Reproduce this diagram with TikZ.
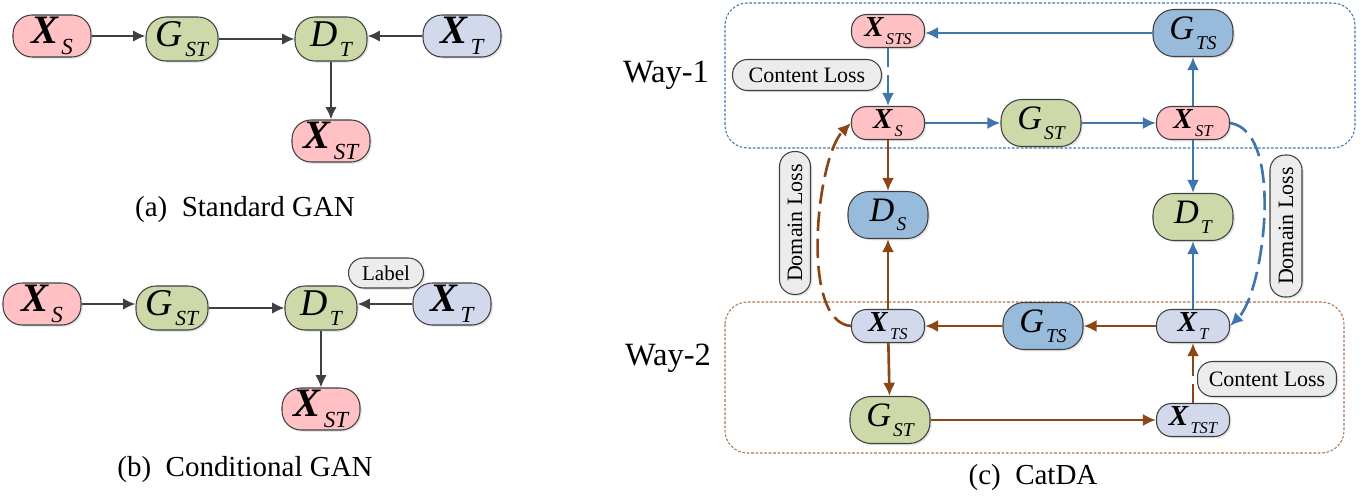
\documentclass[tikz,border=0pt]{standalone}
\usepackage{fontspec}
\setmainfont{Liberation Serif}
\usetikzlibrary{shapes, arrows, arrows.meta, positioning, calc, shadows}

\definecolor{pinkfill}{RGB}{255,193,195}
\definecolor{greenfill}{RGB}{206,217,170}
\definecolor{lilacfill}{RGB}{211,217,237}
\definecolor{steelfill}{RGB}{152,187,219}
\definecolor{greyfill}{RGB}{236,236,236}
\definecolor{edgegrey}{RGB}{64,64,64}
\definecolor{wayblue}{RGB}{62,117,172}
\definecolor{waybrown}{RGB}{140,70,22}

% variable with a lowered italic index
\makeatletter
\newcommand{\subtxt}[1]{\kern0.06em\raisebox{-0.28em}{\fontsize{\strip@pt\dimexpr0.57\dimexpr\f@size pt\relax\relax}{1}\selectfont\itshape #1}}
\makeatother
\newcommand{\bvar}[2]{\textbf{\textit{#1}}\subtxt{#2}}
\newcommand{\ivar}[2]{\textit{#1}\subtxt{#2}}

\tikzstyle{base} = [rectangle, draw=edgegrey, line width=0.6pt, align=center, inner sep=0pt, drop shadow={shadow xshift=1pt, shadow yshift=-1pt, opacity=0.2}]
\tikzstyle{xbig} = [base, minimum width=1.56cm, minimum height=0.84cm, rounded corners=0.38cm, font=\fontsize{23}{23}\selectfont]
\tikzstyle{gbig} = [base, minimum width=1.44cm, minimum height=0.88cm, rounded corners=0.4cm, font=\fontsize{21.5}{22}\selectfont]
\tikzstyle{xsmall} = [base, minimum width=1.46cm, minimum height=0.66cm, rounded corners=0.3cm, font=\fontsize{16.5}{17}\selectfont]
\tikzstyle{gsmall} = [base, minimum width=1.6cm, minimum height=0.94cm, rounded corners=0.42cm, font=\fontsize{19.5}{20}\selectfont]
\tikzstyle{loss} = [base, fill=greyfill, rounded corners=0.3cm, font=\fontsize{12.5}{13}\selectfont]
\tikzstyle{line} = [draw, edgegrey, line width=1.25pt, -{Latex[length=7pt, width=6.5pt]}]
\tikzstyle{bline} = [draw, wayblue, line width=1.5pt, -{Latex[length=7.5pt, width=7pt]}]
\tikzstyle{rline} = [draw, waybrown, line width=1.5pt, -{Latex[length=7.5pt, width=7pt]}]
\tikzstyle{longdash} = [dash pattern=on 11pt off 4.5pt]
\tikzstyle{frame} = [rounded corners=0.45cm, line width=0.6pt, dash pattern=on 1.5pt off 1pt]
\tikzstyle{caption} = [font=\fontsize{16.5}{18}\selectfont]
\tikzstyle{waytext} = [font=\fontsize{18.5}{20}\selectfont]

\begin{document}
\begin{tikzpicture}[x=0.02cm, y=-0.02cm]
    \useasboundingbox (0,0) rectangle (1369,500);

    % (a) standard GAN
    \node [xbig, fill=pinkfill] (xsA) at (52,36) {\bvar{X}{S}};
    \node [gbig, fill=greenfill] (gstA) at (182,39) {\ivar{G}{ST}};
    \node [gbig, fill=greenfill] (dtA) at (331,39) {\ivar{D}{T}};
    \node [xbig, fill=lilacfill] (xtA) at (462,36) {\bvar{X}{T}};
    \node [xbig, fill=pinkfill] (xstA) at (331,141) {\bvar{X}{ST}};
    \node [caption] (capA) at (245,210) {(a)\hspace{0.5em}Standard GAN};

    \path [line] (xsA.east) -- (xsA.east -| gstA.west);
    \path [line] (gstA.east) -- (gstA.east -| dtA.west);
    \path [line] (xtA.west) -- (xtA.west -| dtA.east);
    \path [line] (dtA) -- (xstA);

    % (b) conditional GAN
    \node [xbig, fill=pinkfill] (xsB) at (42,304) {\bvar{X}{S}};
    \node [gbig, fill=greenfill] (gstB) at (172,308) {\ivar{G}{ST}};
    \node [gbig, fill=greenfill] (dtB) at (321,308) {\ivar{D}{T}};
    \node [xbig, fill=lilacfill] (xtB) at (452,304) {\bvar{X}{T}};
    \node [xbig, fill=pinkfill] (xstB) at (321,409) {\bvar{X}{ST}};
    \node [loss, minimum width=1.5cm, minimum height=0.6cm, font=\fontsize{12}{13}\selectfont] (lblB) at (386,273) {Label};
    \node [caption] (capB) at (245,470) {(b)\hspace{0.5em}Conditional GAN};

    \path [line] (xsB.east) -- (xsB.east -| gstB.west);
    \path [line] (gstB.east) -- (gstB.east -| dtB.west);
    \path [line] (xtB.west) -- (xtB.west -| dtB.east);
    \path [line] (dtB) -- (xstB);

    % (c) CatDA: the two ways
    \draw [frame, wayblue] (725,3) rectangle (1355,148);
    \draw [frame, waybrown!75] (725,302) rectangle (1344,453);
    \node [waytext] (way1) at (666,75) {Way-1};
    \node [waytext] (way2) at (668,358) {Way-2};

    \node [xsmall, fill=pinkfill] (xstsC) at (888,31) {\bvar{X}{STS}};
    \node [gsmall, fill=steelfill] (gtsC) at (1193,33) {\ivar{G}{TS}};
    \node [xsmall, fill=pinkfill] (xsC) at (888,123) {\bvar{X}{S}};
    \node [gsmall, fill=greenfill] (gstC) at (1041,123) {\ivar{G}{ST}};
    \node [xsmall, fill=pinkfill] (xstC) at (1193,123) {\bvar{X}{ST}};
    \node [gsmall, fill=steelfill] (dsC) at (888,215) {\ivar{D}{S}};
    \node [gsmall, fill=greenfill] (dtC) at (1193,217) {\ivar{D}{T}};
    \node [xsmall, fill=lilacfill] (xtsC) at (888,326) {\bvar{X}{TS}};
    \node [gsmall, fill=steelfill] (gts2C) at (1043,326) {\ivar{G}{TS}};
    \node [xsmall, fill=lilacfill] (xtC) at (1193,326) {\bvar{X}{T}};
    \node [gsmall, fill=greenfill] (gst2C) at (890,420) {\ivar{G}{ST}};
    \node [xsmall, fill=lilacfill] (xtstC) at (1193,420) {\bvar{X}{TST}};

    \node [loss, minimum width=2.98cm, minimum height=0.62cm] (closs1) at (807,75) {Content Loss};
    \node [loss, minimum width=2.78cm, minimum height=0.7cm] (closs2) at (1267,379) {Content Loss};
    \node [loss, rotate=90, minimum width=2.86cm, minimum height=0.62cm] (dloss1) at (795,223) {Domain Loss};
    \node [loss, rotate=90, minimum width=2.84cm, minimum height=0.64cm] (dloss2) at (1286,226) {Domain Loss};
    \node [caption] (capC) at (1033,478) {(c)\hspace{0.5em}CatDA};

    % way-1 (blue)
    \path [bline] (xsC) -- (gstC);
    \path [bline] (gstC) -- (xstC);
    \path [bline] (xstC) -- (gtsC);
    \path [bline] (gtsC.west) -- (gtsC.west -| xstsC.east);
    \path [bline, longdash] (xstsC) -- (xsC);
    \path [bline] (xstC) -- (dtC);
    \path [bline] (xtC) -- (dtC);
    \path [bline, longdash] (xstC.east) .. controls +(55,8) and +(34,-34) .. (xtC.east);

    % way-2 (brown)
    \path [rline] (xsC) -- (dsC);
    \path [rline] (xtsC) -- (dsC);
    \path [rline] (xtC) -- (gts2C);
    \path [rline] (gts2C) -- (xtsC);
    \path [rline] (xtsC) -- (gst2C);
    \path [rline] (gst2C) -- (xtstC);
    \path [rline, longdash] (xtstC) -- (xtC);
    \path [rline, longdash] (xtsC.west) .. controls +(-52,-4) and +(-34,34) .. (xsC.west);
\end{tikzpicture}
\end{document}
